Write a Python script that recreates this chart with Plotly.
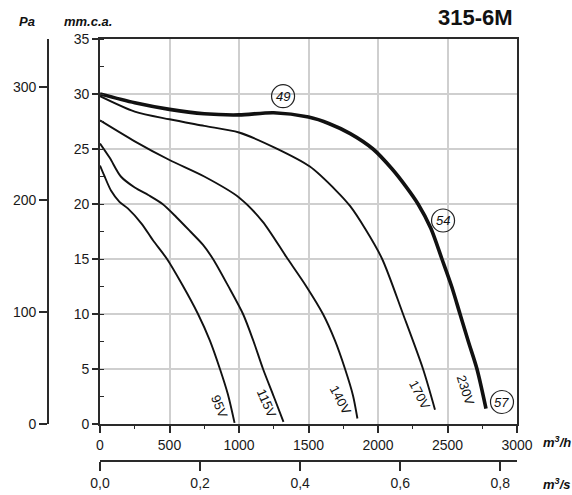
import plotly.graph_objects as go

# ---- data (m3/h vs mm.c.a.) ----
q95 = [0, 30, 80, 140, 200, 300, 381, 482, 590, 705, 790, 863, 920, 968]
p95 = [23.5, 22.6, 21.2, 20.2, 19.6, 18.2, 16.7, 15.0, 12.7, 10.0, 7.6, 5.0, 2.7, 0.1]

q115 = [0, 70, 150, 250, 350, 450, 550, 650, 740, 813, 920, 1029, 1105, 1173, 1250, 1320]
p115 = [25.5, 24.2, 22.5, 21.5, 20.8, 20.0, 18.8, 17.5, 16.3, 15.0, 12.6, 10.0, 7.5, 5.0, 2.5, 0.2]

q140 = [0, 250, 500, 750, 1000, 1170, 1340, 1480, 1604, 1690, 1763, 1820, 1852]
p140 = [27.6, 25.7, 24.0, 22.5, 20.6, 18.4, 15.2, 12.6, 10.0, 7.6, 5.0, 2.6, 0.5]

q170 = [0, 250, 500, 750, 1000, 1260, 1510, 1700, 1800, 1910, 2030, 2180, 2324, 2410]
p170 = [29.8, 28.4, 27.7, 27.1, 26.5, 25.1, 23.4, 21.2, 19.8, 17.7, 15.0, 10.0, 5.0, 1.3]

q230 = [0, 250, 500, 750, 1000, 1250, 1500, 1650, 1800, 1964, 2100, 2200, 2288, 2380,
        2460, 2530, 2590, 2650, 2712, 2777]
p230 = [30.0, 29.2, 28.6, 28.2, 28.1, 28.3, 27.9, 27.3, 26.4, 25.0, 23.2, 21.6, 20.0, 17.8,
        15.0, 12.5, 10.0, 7.5, 5.0, 1.4]

series = [("95V", q95, p95), ("115V", q115, p115), ("140V", q140, p140),
          ("170V", q170, p170), ("230V", q230, p230)]

volt_labels = ["95V", "115V", "140V", "170V", "230V"]
volt_label_q = [856, 1201, 1727, 2302, 2626]
volt_label_p = [1.55, 1.9, 2.2, 2.6, 3.1]
volt_label_angle = [68, 66, 62, 63, 72]

noise_labels = ["49", "54", "57"]
noise_q = [1317, 2468, 2892]
noise_p = [29.8, 18.5, 2.0]

mm_ticks = [0, 5, 10, 15, 20, 25, 30, 35]
qh_ticks = [0, 500, 1000, 1500, 2000, 2500, 3000]
qs_ticks = [0.0, 0.2, 0.4, 0.6, 0.8]
qs_text = ["0,0", "0,2", "0,4", "0,6", "0,8"]
pa_ticks = [0, 100, 200, 300]

Q_MAX = 3000
P_MAX = 35

FONT = "Liberation Sans, Arial, Helvetica, sans-serif"
AX = "#2a2a2a"
GRID = "#cfcfcf"

W, H = 572, 495
ML, MR, MT, MB = 10, 55, 39, 10
PW, PH = W - ML - MR, H - MT - MB


def px(xr):
    return (xr - ML) / PW


def py(yr):
    return (H - MB - yr) / PH


x_dom0 = px(100)
x_dom1 = px(517)
y_dom0 = py(424)
y_dom1 = py(39)

fig = go.Figure()
for name, q, p in series:
    fig.add_trace(go.Scatter(
        x=q, y=p, mode="lines", name=name,
        line=dict(color="#111111", width=3.6 if name == "230V" else 1.9,
                  shape="spline", smoothing=0.8),
        hoverinfo="skip", showlegend=False))

# carriers for the secondary scales
fig.add_trace(go.Scatter(x=[0], y=[0], yaxis="y2", mode="markers",
                         marker=dict(opacity=0), showlegend=False, hoverinfo="skip"))
fig.add_trace(go.Scatter(x=[0], y=[0], xaxis="x2", mode="markers",
                         marker=dict(opacity=0), showlegend=False, hoverinfo="skip"))

fig.update_layout(
    width=W, height=H,
    margin=dict(l=ML, r=MR, t=MT, b=MB, autoexpand=False),
    paper_bgcolor="white", plot_bgcolor="white",
    font=dict(family=FONT, size=14, color="#1a1a1a"),
    xaxis=dict(domain=[x_dom0, x_dom1], range=[0, Q_MAX], tickvals=qh_ticks,
               showgrid=True, gridcolor=GRID, gridwidth=1.5,
               showline=True, linecolor=AX, linewidth=1.8, mirror=True,
               ticks="outside", ticklen=7, tickcolor=AX, tickwidth=1.5,
               minor=dict(dtick=250, ticks="outside", ticklen=3, tickcolor=AX,
                          tickwidth=1.3, showgrid=False),
               zeroline=False, anchor="y", automargin=False),
    yaxis=dict(domain=[y_dom0, y_dom1], range=[0, P_MAX], tickvals=mm_ticks,
               showgrid=True, gridcolor=GRID, gridwidth=1.5,
               showline=True, linecolor=AX, linewidth=1.8, mirror=True,
               ticks="outside", ticklen=6, tickcolor=AX, tickwidth=1.5,
               minor=dict(dtick=2.5, ticks="inside", ticklen=4, tickcolor=AX,
                          tickwidth=1.3, showgrid=False),
               zeroline=False, anchor="x", automargin=False),
    yaxis2=dict(domain=[y_dom0, y_dom1], range=[0, P_MAX * 9.80665], tickvals=pa_ticks,
                anchor="free", position=px(48), overlaying="y", side="left",
                showgrid=False, showline=True, linecolor=AX, linewidth=1.8,
                ticks="outside", ticklen=8, tickcolor=AX, tickwidth=1.5,
                zeroline=False, automargin=False),
    xaxis2=dict(domain=[x_dom0, x_dom1], range=[0, Q_MAX / 3600], tickvals=qs_ticks,
                ticktext=qs_text, anchor="free", position=py(461), overlaying="x",
                side="bottom", showgrid=False, showline=True, linecolor=AX,
                linewidth=1.8, ticks="outside", ticklen=9, tickcolor=AX,
                tickwidth=1.5, zeroline=False, automargin=False),
)

ann = []
ann.append(dict(text="<b>315-6M</b>", xref="paper", yref="paper",
                x=px(475.5), y=py(18), showarrow=False,
                xanchor="center", yanchor="middle", font=dict(size=22, color="#111")))
ann.append(dict(text="<b><i>Pa</i></b>", xref="paper", yref="paper",
                x=px(27), y=py(21), showarrow=False,
                xanchor="center", yanchor="middle", font=dict(size=13, color="#111")))
ann.append(dict(text="<b><i>mm.c.a.</i></b>", xref="paper", yref="paper",
                x=px(88), y=py(21), showarrow=False,
                xanchor="center", yanchor="middle", font=dict(size=13, color="#111")))
ann.append(dict(text="<b><i>m<sup>3</sup>/h</i></b>", xref="paper", yref="paper",
                x=px(541), y=py(442), showarrow=False,
                xanchor="left", yanchor="middle", font=dict(size=13, color="#111")))
ann.append(dict(text="<b><i>m<sup>3</sup>/s</i></b>", xref="paper", yref="paper",
                x=px(541), y=py(484), showarrow=False,
                xanchor="left", yanchor="middle", font=dict(size=13, color="#111")))

for t, xq, yp, a in zip(volt_labels, volt_label_q, volt_label_p, volt_label_angle):
    ann.append(dict(text=t, x=xq, y=yp, xref="x", yref="y", showarrow=False,
                    textangle=a, font=dict(size=13, color="#111")))

shapes = []
for t, xq, yp in zip(noise_labels, noise_q, noise_p):
    ann.append(dict(text="<i>" + t + "</i>", x=xq, y=yp, xref="x", yref="y",
                    showarrow=False, font=dict(size=13, color="#111")))
    shapes.append(dict(type="circle", xref="x", yref="y", xsizemode="pixel",
                       ysizemode="pixel", xanchor=xq, yanchor=yp,
                       x0=-11.5, x1=11.5, y0=-11.5, y1=11.5,
                       line=dict(color="#222", width=1.2), fillcolor="rgba(0,0,0,0)"))

fig.update_layout(annotations=ann, shapes=shapes)
fig.write_html(
    "out.html",
    config={"displayModeBar": False},
    post_script="document.body.style.margin='0';document.body.style.overflow='hidden';",
)
